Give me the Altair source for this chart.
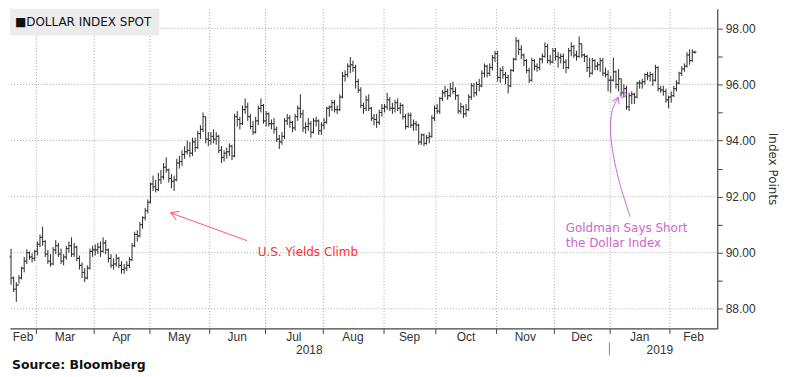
import altair as alt
import pandas as pd

# ---------------- data: daily bars (high, low, close), one list per month ----------------
feb_2018 = [(90.14, 88.86, 89.10), (89.15, 88.60, 88.70), (88.95, 88.25, 88.85), (89.20, 88.90, 89.10),
            (89.50, 89.05, 89.45), (89.85, 89.30, 89.70), (90.12, 89.60, 90.00), (90.05, 89.75, 89.85),
            (89.98, 89.65, 89.80), (90.10, 89.70, 90.05)]
mar_2018 = [(90.40, 89.90, 90.30), (90.65, 90.20, 90.55), (90.93, 90.25, 90.40), (90.45, 89.85, 89.95),
            (90.10, 89.60, 89.70), (89.95, 89.50, 89.60), (90.20, 89.55, 90.10), (90.45, 89.95, 90.25),
            (90.35, 89.85, 89.95), (90.15, 89.60, 89.70), (89.95, 89.55, 89.85), (90.25, 89.75, 90.15),
            (90.40, 90.00, 90.25), (90.55, 89.85, 89.95), (90.35, 89.85, 90.20), (90.25, 89.70, 89.80),
            (89.90, 89.40, 89.55), (89.65, 89.10, 89.30), (89.45, 88.95, 89.10), (89.55, 89.05, 89.45),
            (90.15, 89.40, 90.05), (90.25, 89.85, 90.10)]
apr_2018 = [(90.30, 89.90, 90.10), (90.35, 89.95, 90.20), (90.40, 89.85, 90.05), (90.55, 90.00, 90.35),
            (90.45, 89.95, 90.10), (90.15, 89.65, 89.80), (89.95, 89.45, 89.55), (89.80, 89.40, 89.60),
            (89.95, 89.50, 89.80), (89.85, 89.45, 89.55), (89.70, 89.25, 89.40), (89.60, 89.25, 89.45),
            (89.70, 89.35, 89.55), (89.85, 89.45, 89.75), (90.35, 89.70, 90.25), (90.75, 90.20, 90.65),
            (90.80, 90.40, 90.60), (91.10, 90.55, 91.00), (91.30, 90.85, 91.25), (91.60, 91.15, 91.50),
            (91.90, 91.40, 91.80)]
may_2018 = [(92.50, 91.75, 92.45), (92.75, 92.20, 92.35), (92.60, 92.15, 92.25), (92.85, 92.20, 92.60),
            (92.95, 92.45, 92.70), (93.20, 92.60, 93.05), (93.40, 92.85, 92.95), (93.00, 92.50, 92.65),
            (92.80, 92.30, 92.55), (92.75, 92.20, 92.60), (93.35, 92.55, 93.20), (93.45, 93.00, 93.25),
            (93.65, 93.10, 93.50), (93.80, 93.35, 93.60), (94.00, 93.50, 93.65), (93.95, 93.40, 93.55),
            (94.10, 93.45, 93.95), (94.10, 93.60, 93.75), (94.35, 93.70, 94.25), (94.55, 94.05, 94.40),
            (95.00, 94.30, 94.85), (94.85, 93.90, 94.05), (94.30, 93.80, 94.00)]
jun_2018 = [(94.30, 93.85, 94.15), (94.40, 93.90, 94.05), (94.30, 93.85, 94.15), (94.20, 93.55, 93.65),
            (93.80, 93.20, 93.40), (93.65, 93.25, 93.55), (93.75, 93.35, 93.60), (93.90, 93.45, 93.80),
            (93.85, 93.30, 93.45), (94.95, 93.40, 94.85), (95.05, 94.50, 94.75), (94.85, 94.40, 94.60),
            (95.25, 94.55, 95.10), (95.50, 94.95, 95.20), (95.35, 94.70, 94.85), (94.95, 94.40, 94.50),
            (94.70, 94.20, 94.30), (94.85, 94.25, 94.70), (95.25, 94.55, 95.15), (95.50, 95.00, 95.25),
            (95.30, 94.60, 94.70)]
jul_2018 = [(95.05, 94.50, 94.95), (95.00, 94.50, 94.60), (94.75, 94.40, 94.60), (94.80, 94.25, 94.40),
            (94.50, 93.95, 94.05), (94.20, 93.70, 93.95), (94.30, 93.85, 94.15), (94.80, 94.05, 94.70),
            (94.95, 94.55, 94.80), (94.90, 94.45, 94.65), (94.70, 94.30, 94.45), (94.95, 94.35, 94.85),
            (95.25, 94.70, 95.15), (95.65, 94.80, 94.95), (95.10, 94.30, 94.45), (94.65, 94.25, 94.50),
            (94.80, 94.35, 94.60), (94.70, 94.10, 94.30), (94.80, 94.25, 94.70), (94.85, 94.50, 94.70),
            (94.75, 94.20, 94.35), (94.65, 94.20, 94.55)]
aug_2018 = [(94.80, 94.40, 94.65), (95.20, 94.60, 95.15), (95.25, 94.85, 95.20), (95.45, 95.05, 95.35),
            (95.45, 95.00, 95.10), (95.25, 94.95, 95.10), (95.65, 95.05, 95.55), (96.45, 95.50, 96.30),
            (96.50, 96.10, 96.35), (96.75, 96.25, 96.65), (96.98, 96.40, 96.70), (96.85, 96.45, 96.60),
            (96.70, 95.85, 96.10), (96.20, 95.70, 95.80), (95.90, 95.15, 95.25), (95.35, 94.95, 95.15),
            (95.60, 95.05, 95.45), (95.65, 95.05, 95.15), (95.20, 94.70, 94.80), (94.95, 94.55, 94.75),
            (94.95, 94.45, 94.65), (95.10, 94.55, 95.00), (95.30, 94.85, 95.15)]
sep_2018 = [(95.30, 95.00, 95.20), (95.70, 95.10, 95.45), (95.55, 95.05, 95.15), (95.35, 94.95, 95.15),
            (95.45, 95.00, 95.35), (95.50, 95.05, 95.15), (95.35, 94.95, 95.25), (95.30, 94.75, 94.85),
            (94.95, 94.40, 94.50), (95.00, 94.45, 94.90), (95.00, 94.45, 94.55), (94.75, 94.35, 94.60),
            (94.70, 94.35, 94.55), (94.60, 93.85, 93.95), (94.25, 93.85, 94.20), (94.25, 93.80, 93.90),
            (94.20, 93.85, 94.10), (94.30, 93.90, 94.15), (94.90, 94.10, 94.80), (95.25, 94.70, 95.15)]
oct_2018 = [(95.30, 94.95, 95.05), (95.55, 94.95, 95.50), (95.80, 95.40, 95.70), (95.95, 95.55, 95.75),
            (95.85, 95.45, 95.60), (96.05, 95.55, 95.85), (96.10, 95.65, 95.75), (95.90, 95.45, 95.60),
            (95.65, 94.95, 95.05), (95.35, 94.95, 95.20), (95.25, 94.80, 94.95), (95.30, 94.85, 95.10),
            (95.65, 95.05, 95.55), (96.05, 95.45, 95.95), (96.05, 95.55, 95.70), (96.10, 95.60, 96.00),
            (96.20, 95.75, 95.95), (96.50, 95.90, 96.40), (96.75, 96.25, 96.65), (96.70, 96.25, 96.40),
            (96.75, 96.30, 96.60), (97.05, 96.50, 96.95), (97.20, 96.80, 97.10)]
nov_2018 = [(97.20, 96.10, 96.25), (96.60, 96.05, 96.50), (96.65, 96.20, 96.35), (96.45, 96.00, 96.25),
            (96.35, 95.68, 95.95), (96.55, 95.90, 96.50), (96.95, 96.45, 96.90), (97.69, 96.85, 97.55),
            (97.60, 97.05, 97.25), (97.40, 96.90, 97.05), (97.10, 96.65, 96.85), (96.90, 96.40, 96.50),
            (96.60, 96.05, 96.15), (96.95, 96.10, 96.85), (96.90, 96.50, 96.65), (96.75, 96.45, 96.60),
            (96.95, 96.50, 96.90), (97.10, 96.75, 97.00), (97.50, 96.95, 97.35), (97.45, 96.75, 96.85),
            (97.05, 96.70, 96.80), (97.30, 96.75, 97.20)]
dec_2018 = [(97.30, 96.85, 97.00), (97.15, 96.60, 96.95), (97.10, 96.75, 97.00), (97.10, 96.55, 96.80),
            (96.90, 96.40, 96.60), (97.30, 96.55, 97.20), (97.50, 97.00, 97.35), (97.40, 96.95, 97.05),
            (97.20, 96.85, 97.00), (97.71, 96.95, 97.45), (97.45, 96.95, 97.05), (97.10, 96.80, 97.00),
            (97.05, 96.45, 96.60), (96.95, 96.25, 96.40), (96.95, 96.35, 96.85), (96.90, 96.50, 96.65),
            (96.80, 96.50, 96.70), (96.95, 96.45, 96.85), (96.95, 96.30, 96.40), (96.60, 96.25, 96.35),
            (96.50, 95.75, 96.15)]
jan_2019 = [(96.30, 95.70, 96.15), (96.96, 96.10, 96.45), (96.50, 95.85, 96.00), (96.55, 95.75, 96.20),
            (96.20, 95.60, 95.70), (96.00, 95.55, 95.85), (95.95, 95.10, 95.20), (95.70, 95.05, 95.60),
            (95.75, 95.30, 95.65), (95.70, 95.30, 95.55), (96.10, 95.50, 96.05), (96.15, 95.85, 96.05),
            (96.20, 95.85, 96.10), (96.40, 96.00, 96.35), (96.45, 96.15, 96.30), (96.45, 96.10, 96.35),
            (96.40, 95.95, 96.15), (96.70, 96.10, 96.60), (96.65, 95.75, 95.85), (95.95, 95.70, 95.80),
            (95.95, 95.60, 95.75), (95.85, 95.35, 95.45), (95.60, 95.15, 95.55)]
feb_2019 = [(95.75, 95.35, 95.60), (95.95, 95.55, 95.85), (96.15, 95.75, 96.05), (96.45, 96.00, 96.40),
            (96.65, 96.30, 96.55), (96.75, 96.45, 96.65), (97.15, 96.60, 97.05), (97.25, 96.70, 96.85),
            (97.25, 96.80, 97.15), (97.20, 97.10, 97.15)]
FIRST_OPEN = 89.85

MONTH_BLOCKS = [feb_2018, mar_2018, apr_2018, may_2018, jun_2018, jul_2018, aug_2018,
                sep_2018, oct_2018, nov_2018, dec_2018, jan_2019, feb_2019]
MONTH_LABELS = ["Feb", "Mar", "Apr", "May", "Jun", "Jul", "Aug", "Sep", "Oct", "Nov", "Dec", "Jan", "Feb"]
YEAR_LABELS = ["2018", "2019"]
YEAR_POS = [113.4, 246.7]          # trading-day index where the year label sits
Y_TICKS = list(range(88, 99))
Y_GRID = [88, 90, 92, 94, 96, 98]

# annotations (in data units: trading-day index, index points)
YIELDS_TEXT = "U.S. Yields Climb"
YIELDS_TEXT_AT = (93.8, 90.03)
YIELDS_ARROW_X = [89.7, 60.7]
YIELDS_ARROW_Y = [90.43, 91.42]
GOLDMAN_TEXT = ["Goldman Says Short", "the Dollar Index"]
GOLDMAN_TEXT_X = 210.9
GOLDMAN_TEXT_Y = [90.89, 90.36]
GOLDMAN_CURVE_X = [235.4, 231.6, 229.0, 227.9, 228.6, 230.9]
GOLDMAN_CURVE_Y = [91.28, 92.41, 93.48, 94.37, 95.08, 95.54]
GOLDMAN_CIRCLE = (232.7, 95.64)

# ---------------- build tables ----------------
rows = []
prev = FIRST_OPEN
i = 0
for block in MONTH_BLOCKS:
    for h, l, c in block:
        rows.append({"idx": i, "open": prev, "high": h, "low": l, "close": c})
        prev = c
        i += 1
bars = pd.DataFrame(rows)

X_MIN, X_MAX = -0.4, 268.5
bounds = []
cum = 0
for block in MONTH_BLOCKS[:-1]:
    cum += len(block)
    bounds.append(cum - 0.5)
edges = [X_MIN] + bounds + [X_MAX]
month_df = pd.DataFrame({"pos": [(edges[k] + edges[k + 1]) / 2 for k in range(len(MONTH_LABELS))],
                         "m": MONTH_LABELS})
year_df = pd.DataFrame({"pos": YEAR_POS, "yr": YEAR_LABELS})
jan_bound = pd.DataFrame({"pos": [bounds[10]]})

W, H = 710, 321
xs = alt.Scale(domain=[X_MIN, X_MAX], nice=False, zero=False)
ys = alt.Scale(domain=[87.3, 98.7], nice=False, zero=False)

BAR = "#2b2b2b"
GRID = "#aaaaaa"
AXC = "#444444"
TXT = "#333333"
RED = "#ff2d2d"
RED_ARROW = "#ff5a6a"
MAG = "#cf64cf"

x_axis = alt.Axis(values=bounds, labels=False, ticks=True, tickSize=5, tickColor=AXC,
                  domainColor=AXC, domainWidth=1.2, grid=True, gridDash=[1, 2], gridColor=GRID,
                  title=None)
y_axis = alt.Axis(orient="right", values=Y_TICKS,
                  labelExpr="datum.value % 2 == 0 ? format(datum.value, '.2f') : ''",
                  grid=False, tickSize=5, tickColor=AXC, domainColor=AXC, domainWidth=1.2,
                  labelColor=TXT, labelFont="Liberation Sans", labelFontSize=12, labelPadding=3,
                  title="Index Points", titleFont="DejaVu Sans", titleFontSize=12,
                  titleFontWeight="normal", titleColor=TXT, titlePadding=10)


def X(field):
    return alt.X(field, scale=xs, axis=x_axis)


def Y(field):
    return alt.Y(field, scale=ys, axis=y_axis)


hgrid = alt.Chart(pd.DataFrame({"v": Y_GRID})).mark_rule(
    strokeDash=[1, 2], color=GRID, strokeWidth=1).encode(y=Y("v:Q"))

hl = alt.Chart(bars).mark_rule(color=BAR, strokeWidth=1).encode(
    x=X("idx:Q"), y=Y("low:Q"), y2="high:Q")
open_tick = alt.Chart(bars).transform_calculate(xo="datum.idx - 0.6").mark_rule(
    color=BAR, strokeWidth=1).encode(x=X("xo:Q"), x2="idx:Q", y=Y("open:Q"))
close_tick = alt.Chart(bars).transform_calculate(xc="datum.idx + 0.6").mark_rule(
    color=BAR, strokeWidth=1).encode(x=X("idx:Q"), x2="xc:Q", y=Y("close:Q"))

one = pd.DataFrame({"a": [0]})
legend_box = alt.Chart(one).mark_rect(color="#ececec").encode(
    x=alt.value(0), x2=alt.value(150), y=alt.value(0), y2=alt.value(27))
legend_text = alt.Chart(one).mark_text(
    align="left", baseline="middle", font="DejaVu Sans", fontSize=12, color="#111111").encode(
    x=alt.value(5), y=alt.value(13), text=alt.value("\u25a0DOLLAR INDEX SPOT"))

months = alt.Chart(month_df).mark_text(
    baseline="middle", font="Liberation Sans", fontSize=12, color=TXT).encode(
    x=X("pos:Q"), y=alt.value(330), text="m:N")
years = alt.Chart(year_df).mark_text(
    baseline="middle", font="Liberation Sans", fontSize=12, color=TXT).encode(
    x=X("pos:Q"), y=alt.value(343), text="yr:N")
year_sep = alt.Chart(jan_bound).mark_rule(color="#888888", strokeWidth=1).encode(
    x=X("pos:Q"), y=alt.value(335), y2=alt.value(348))
source = alt.Chart(one).mark_text(
    align="left", baseline="middle", font="DejaVu Sans", fontSize=12.5, fontWeight="bold",
    color="#111111").encode(x=alt.value(2), y=alt.value(358), text=alt.value("Source: Bloomberg"))

# "U.S. Yields Climb" annotation
y_arrow_df = pd.DataFrame({"ax": YIELDS_ARROW_X, "ay": YIELDS_ARROW_Y, "o": [0, 1]})
y_shaft = alt.Chart(y_arrow_df).mark_line(color=RED_ARROW, strokeWidth=1).encode(
    x=X("ax:Q"), y=Y("ay:Q"), order="o:Q")
y_head = alt.Chart(pd.DataFrame({"ax": [YIELDS_ARROW_X[1]], "ay": [YIELDS_ARROW_Y[1]]})).mark_point(
    shape="M -0.6 1 L 0 0 L 0.6 1", filled=False, size=230, angle=290, color=RED_ARROW,
    strokeWidth=1, opacity=1).encode(x=X("ax:Q"), y=Y("ay:Q"))
y_text = alt.Chart(pd.DataFrame({"tx": [YIELDS_TEXT_AT[0]], "ty": [YIELDS_TEXT_AT[1]],
                                 "t": [YIELDS_TEXT]})).mark_text(
    align="left", baseline="middle", font="DejaVu Sans", fontSize=12, color=RED).encode(
    x=X("tx:Q"), y=Y("ty:Q"), text="t:N")

# Goldman annotation
g_curve_df = pd.DataFrame({"gx": GOLDMAN_CURVE_X, "gy": GOLDMAN_CURVE_Y,
                           "o": list(range(len(GOLDMAN_CURVE_X)))})
g_curve = alt.Chart(g_curve_df).mark_line(color=MAG, strokeWidth=1, interpolate="cardinal").encode(
    x=X("gx:Q"), y=Y("gy:Q"), order="o:Q")
g_head = alt.Chart(pd.DataFrame({"gx": [GOLDMAN_CURVE_X[-1]], "gy": [GOLDMAN_CURVE_Y[-1]]})).mark_point(
    shape="M -0.6 1 L 0 0 L 0.6 1", filled=False, size=150, angle=25, color=MAG,
    strokeWidth=1, opacity=1).encode(x=X("gx:Q"), y=Y("gy:Q"))
g_circle = alt.Chart(pd.DataFrame({"gx": [GOLDMAN_CIRCLE[0]], "gy": [GOLDMAN_CIRCLE[1]]})).mark_point(
    shape="circle", filled=False, size=36, color=MAG, strokeWidth=1, opacity=1).encode(
    x=X("gx:Q"), y=Y("gy:Q"))
g_text = alt.Chart(pd.DataFrame({"tx": [GOLDMAN_TEXT_X] * 2, "ty": GOLDMAN_TEXT_Y,
                                 "t": GOLDMAN_TEXT})).mark_text(
    align="left", baseline="middle", font="DejaVu Sans", fontSize=12, color=MAG).encode(
    x=X("tx:Q"), y=Y("ty:Q"), text="t:N")

chart = alt.layer(
    hgrid, hl, open_tick, close_tick, legend_box, legend_text,
    y_shaft, y_head, y_text, g_curve, g_head, g_circle, g_text,
    months, years, year_sep, source
).properties(width=W, height=H, padding=0, background="white").configure_view(strokeWidth=0)

chart.save("out.html", embed_options={"renderer": "svg", "actions": False})
